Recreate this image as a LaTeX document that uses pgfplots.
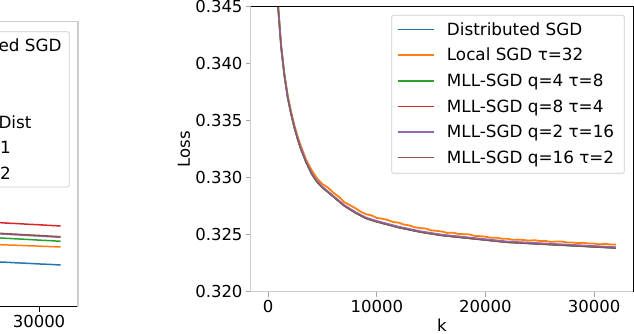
\documentclass[border=0pt]{standalone}
\usepackage{fontspec}
\setmainfont{DejaVu Sans}
\usepackage{pgfplots}
\usepackage{pgfplotstable}
\pgfplotsset{compat=1.18}
\definecolor{mplC0}{HTML}{1F77B4}
\definecolor{mplC1}{HTML}{FF7F0E}
\definecolor{mplC2}{HTML}{2CA02C}
\definecolor{mplC3}{HTML}{D62728}
\definecolor{mplC4}{HTML}{9467BD}
\definecolor{mplC5}{HTML}{8C564B}
\definecolor{spine}{HTML}{CCCCCC}
\newcommand\fs{\fontsize{16.5bp}{19bp}\selectfont}
\newcommand\lfs{\fontsize{16.8bp}{19bp}\selectfont}
\tikzset{
  thin run/.style={#1, line width=0.9bp},
  thick run/.style={#1, line width=1.8bp},
}

% right panel: loss vs k
\pgfplotstableread{
k     dist    mllA    mllB    mllC    mllD
300   0.37000 0.37005 0.37003 0.37010 0.37002
600   0.35300 0.35305 0.35303 0.35310 0.35302
900   0.34520 0.34525 0.34523 0.34530 0.34522
1200  0.34140 0.34145 0.34143 0.34150 0.34142
1500  0.33890 0.33895 0.33893 0.33900 0.33892
1800  0.33700 0.33705 0.33703 0.33710 0.33702
2100  0.33560 0.33565 0.33563 0.33570 0.33562
2400  0.33440 0.33445 0.33443 0.33450 0.33442
2700  0.33340 0.33345 0.33343 0.33350 0.33342
3000  0.33250 0.33255 0.33253 0.33260 0.33252
3500  0.33130 0.33135 0.33133 0.33140 0.33132
4000  0.33030 0.33035 0.33033 0.33040 0.33032
4500  0.32960 0.32965 0.32963 0.32970 0.32962
5000  0.32910 0.32915 0.32913 0.32920 0.32912
6000  0.32830 0.32835 0.32833 0.32840 0.32832
7000  0.32750 0.32755 0.32753 0.32760 0.32752
8000  0.32690 0.32695 0.32693 0.32700 0.32692
9000  0.32640 0.32645 0.32643 0.32650 0.32642
10000 0.32610 0.32615 0.32613 0.32620 0.32612
12000 0.32560 0.32565 0.32563 0.32570 0.32562
14000 0.32520 0.32525 0.32523 0.32530 0.32522
16000 0.32490 0.32495 0.32493 0.32500 0.32492
18000 0.32470 0.32475 0.32473 0.32480 0.32472
20000 0.32450 0.32455 0.32453 0.32460 0.32452
22000 0.32430 0.32435 0.32433 0.32440 0.32432
24000 0.32420 0.32425 0.32423 0.32430 0.32422
26000 0.32410 0.32415 0.32413 0.32420 0.32412
28000 0.32400 0.32405 0.32403 0.32410 0.32402
30000 0.32390 0.32395 0.32393 0.32400 0.32392
32000 0.32380 0.32385 0.32383 0.32390 0.32382
}\mainruns

\pgfplotstableread{
k     loss
300   0.37020
600   0.35325
900   0.34540
1200  0.34160
1500  0.33912
1800  0.33725
2100  0.33585
2400  0.33467
2700  0.33368
3000  0.33282
3500  0.33157
4000  0.33067
4500  0.32994
5000  0.32944
5500  0.32914
6000  0.32869
6500  0.32833
7000  0.32786
7500  0.32761
8000  0.32734
8500  0.32703
9000  0.32680
9500  0.32670
10000 0.32647
10500 0.32640
11000 0.32629
11500 0.32611
12000 0.32606
12500 0.32589
13000 0.32581
13500 0.32565
14000 0.32558
14500 0.32554
15000 0.32538
15500 0.32534
16000 0.32528
16500 0.32516
17000 0.32518
17500 0.32507
18000 0.32504
18500 0.32503
19000 0.32489
19500 0.32487
20000 0.32483
20500 0.32473
21000 0.32474
21500 0.32465
22000 0.32465
22500 0.32455
23000 0.32457
23500 0.32454
24000 0.32448
24500 0.32452
25000 0.32445
25500 0.32446
26000 0.32437
26500 0.32440
27000 0.32440
27500 0.32432
28000 0.32432
28500 0.32426
29000 0.32429
29500 0.32423
30000 0.32422
30500 0.32415
31000 0.32420
31500 0.32414
32000 0.32413
}\localsgd

% left panel (only its right edge is in view)
\pgfplotstableread{
k     dist   local  mllA   mllB   mllC   mllD
22000 0.1650 0.2238 0.2502 0.3037 0.2630 0.2667
24000 0.1613 0.2209 0.2460 0.2996 0.2605 0.2625
25000 0.1597 0.2194 0.2442 0.2975 0.2582 0.2604
26000 0.1575 0.2183 0.2419 0.2958 0.2563 0.2585
27000 0.1559 0.2166 0.2400 0.2934 0.2541 0.2561
28000 0.1538 0.2155 0.2378 0.2916 0.2520 0.2542
29000 0.1521 0.2138 0.2359 0.2893 0.2499 0.2519
30000 0.1500 0.2126 0.2336 0.2875 0.2478 0.2500
31000 0.1484 0.2110 0.2318 0.2852 0.2457 0.2477
32000 0.1463 0.2096 0.2295 0.2833 0.2436 0.2456
}\leftruns

\pgfplotsset{
  panel/.style={
    scale only axis, height=285bp,
    xmin=-1600, xmax=33600,
    axis line style={draw=none},
    clip mode=individual,
    tick align=outside, major tick length=5bp,
    xtick pos=bottom, ytick pos=left,
    scaled ticks=false,
    tick label style={font=\fs},
    /pgf/number format/assume math mode=true,
    xticklabel style={inner sep=3bp,/pgf/number format/set thousands separator={}},
    yticklabel style={inner sep=3bp},
    label style={font=\fs},
  },
}

\begin{document}
\begin{tikzpicture}
\useasboundingbox (0,0) rectangle (634bp,334bp);
\clip (0,0) rectangle (634bp,334bp);

\begin{axis}[panel,
  at={(78bp,27.3bp)}, anchor=south east, width=381.2bp,
  ymin=0, ymax=1, ytick=\empty, xtick={30000},
  tick style={black, line width=0.8bp},
]
  \addplot[mplC0, line width=1.5bp] table[x=k, y=dist] {\leftruns};
  \addplot[mplC1, line width=1.5bp] table[x=k, y=local] {\leftruns};
  \addplot[mplC2, line width=1.5bp] table[x=k, y=mllA] {\leftruns};
  \addplot[mplC3, line width=1.5bp] table[x=k, y=mllB] {\leftruns};
  \addplot[mplC4, line width=1.5bp] table[x=k, y=mllC] {\leftruns};
  \addplot[mplC5, line width=1.5bp] table[x=k, y=mllD] {\leftruns};
  \draw[black, line width=1bp] (rel axis cs:0,0) -- (rel axis cs:1,0);
  \draw[spine, line width=1.3bp] (rel axis cs:0,1) -- (rel axis cs:1,1) -- (rel axis cs:1,0);
\end{axis}

% legend of the left panel, cut by the edge of the figure
\draw[spine, fill=white, fill opacity=0.8, rounded corners=2bp, line width=0.8bp]
  (-150bp,147bp) rectangle (69.3bp,302.3bp);
\begin{scope}[every node/.style={font=\lfs, inner sep=0pt}]
  \node[anchor=base east] at (61.7bp,282.3bp) {ed SGD};
  \node[anchor=base east] at (31.7bp,205.8bp) {Dist};
  \node[anchor=base east] at (11bp,180.3bp) {1};
  \node[anchor=base east] at (11bp,154.8bp) {2};
\end{scope}

\begin{axis}[panel,
  at={(250.7bp,42.3bp)}, anchor=south west, width=382.6bp,
  ymin=0.320, ymax=0.345,
  xtick={0,10000,20000,30000},
  ytick={0.320,0.325,0.330,0.335,0.340,0.345},
  yticklabel style={/pgf/number format/.cd, fixed, fixed zerofill, precision=3},
  tick style={black!35, line width=0.8bp},
  xlabel={k}, ylabel={Loss},
  xlabel style={inner sep=3bp},
  ylabel style={inner sep=2bp},
]
  \addplot[thin run=mplC0] table[x=k, y=dist] {\mainruns};
  \addplot[thick run=mplC1] table[x=k, y=loss] {\localsgd};
  \addplot[thick run=mplC2] table[x=k, y=mllA] {\mainruns};
  \addplot[thin run=mplC3] table[x=k, y=mllB] {\mainruns};
  \addplot[thick run=mplC4] table[x=k, y=mllC] {\mainruns};
  \addplot[thin run=mplC5] table[x=k, y=mllD] {\mainruns};
  \draw[spine, line width=1.3bp] (rel axis cs:0,1) -- (rel axis cs:0,0) -- (rel axis cs:1,0);
  \draw[black, line width=1bp] (rel axis cs:0,1) -- (rel axis cs:1,1) -- (rel axis cs:1,0);
\end{axis}

% legend of the right panel
\draw[spine, fill=white, fill opacity=0.8, rounded corners=2bp, line width=0.8bp]
  (391.7bp,160.7bp) rectangle (624.3bp,318.7bp);
\begin{scope}[line cap=butt]
  \draw[thin run=mplC0]  (397.7bp,304.3bp) -- (434.3bp,304.3bp);
  \draw[thick run=mplC1] (397.7bp,278.7bp) -- (434.3bp,278.7bp);
  \draw[thick run=mplC2] (397.7bp,253.1bp) -- (434.3bp,253.1bp);
  \draw[thin run=mplC3]  (397.7bp,227.5bp) -- (434.3bp,227.5bp);
  \draw[thick run=mplC4] (397.7bp,201.9bp) -- (434.3bp,201.9bp);
  \draw[thin run=mplC5]  (397.7bp,176.3bp) -- (434.3bp,176.3bp);
\end{scope}
\begin{scope}[every node/.style={font=\lfs, inner sep=0pt, anchor=base west}]
  \node at (446.7bp,298.7bp) {Distributed SGD};
  \node at (446.7bp,273.1bp) {Local SGD τ=32};
  \node at (446.7bp,247.5bp) {MLL-SGD q=4 τ=8};
  \node at (446.7bp,221.9bp) {MLL-SGD q=8 τ=4};
  \node at (446.7bp,196.3bp) {MLL-SGD q=2 τ=16};
  \node at (446.7bp,170.7bp) {MLL-SGD q=16 τ=2};
\end{scope}
\end{tikzpicture}
\end{document}
